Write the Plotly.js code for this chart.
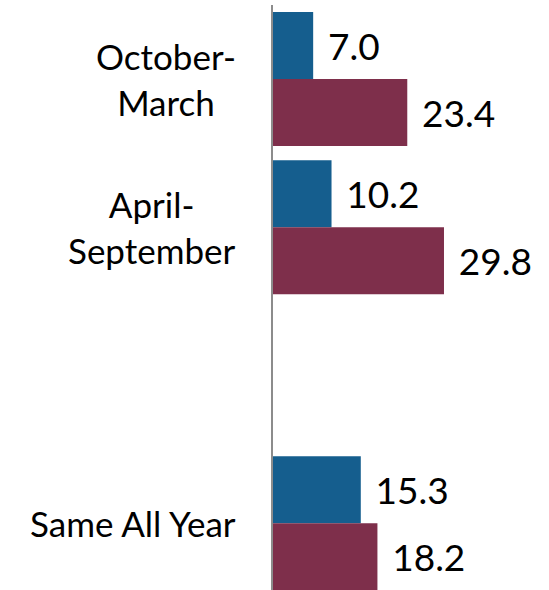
<!DOCTYPE html>
<html>
<head>
<meta charset="utf-8">
<script src="https://cdn.plot.ly/plotly-3.0.1.min.js"></script>
<style>html,body{margin:0;padding:0;background:#fff;}#chart{width:549px;height:590px;}</style>
</head>
<body>
<div id="chart"></div>
<script>
// Data
const barCategories = ['October-March', 'April-September', 'Same All Year'];
const axisCategories = ['October-March', 'April-September', 'gap', 'Same All Year'];
const tickLabels = ['October-<br>March', 'April-<br>September', '', 'Same All Year'];
const blueValues = [7.0, 10.2, 15.3];
const maroonValues = [23.4, 29.8, 18.2];

const FONT = 'Lato, "Open Sans", sans-serif';
const pad = '\u00a0\u200a';

function barTrace(values, color) {
  return {
    type: 'bar',
    orientation: 'h',
    y: barCategories,
    x: values,
    marker: {color: color, line: {width: 0}},
    text: values.map(v => pad + v.toFixed(1)),
    textposition: 'outside',
    constraintext: 'none',
    cliponaxis: false,
    textfont: {family: FONT, size: 37, color: '#000'},
    hoverinfo: 'skip'
  };
}

const data = [
  barTrace(blueValues, '#155e8e'),
  barTrace(maroonValues, '#7e2f4b')
];

const annotations = axisCategories.map((c, i) => ({
  xref: 'paper', yref: 'y', x: 0, y: c,
  xanchor: 'right', yanchor: 'middle', xshift: -35,
  align: 'center', showarrow: false,
  text: tickLabels[i],
  font: {family: FONT, size: 35, color: '#000'}
})).filter(a => a.text !== '');

const layout = {
  width: 549, height: 590,
  margin: {l: 273, r: 0, t: 5, b: 0, pad: 0},
  paper_bgcolor: '#fff', plot_bgcolor: '#fff',
  barmode: 'group', bargap: 0.095, bargroupgap: 0,
  showlegend: false,
  xaxis: {range: [0, 48.1], showgrid: false, zeroline: false, showline: false,
          showticklabels: false, ticks: '', fixedrange: true},
  yaxis: {type: 'category', categoryorder: 'array', categoryarray: axisCategories,
          range: [3.45, -0.5], showgrid: false, zeroline: false,
          showline: true, linecolor: '#8c8c8c', linewidth: 2,
          showticklabels: false, ticks: '', fixedrange: true},
  annotations: annotations
};

Plotly.newPlot('chart', data, layout, {displayModeBar: false, staticPlot: true});
</script>
</body>
</html>
